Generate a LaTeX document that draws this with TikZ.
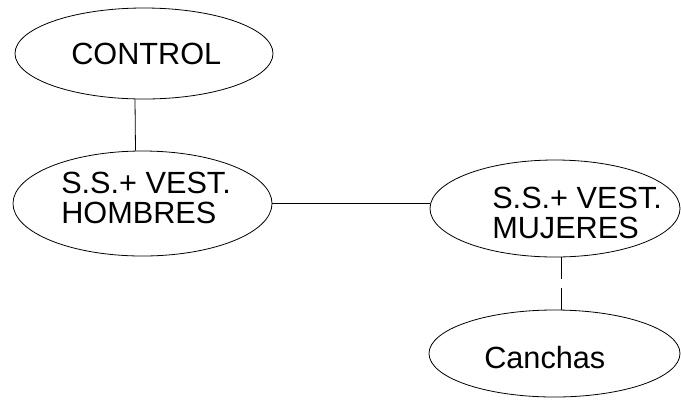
\documentclass[tikz,border=0pt]{standalone}
\usepackage{fontspec}
\setmainfont{Liberation Sans}
\usetikzlibrary{positioning, shapes.geometric}

\begin{document}
\begin{tikzpicture}[
    x=0.75pt, y=-0.75pt,
    % Node styles
    area/.style={ellipse, draw=black, line width=0.6pt, inner sep=0pt},
    areaname/.style={anchor=base west, inner sep=0pt, align=left,
                 font=\fontsize{23}{22.5}\selectfont},
    % Edge styles
    link/.style={draw=black, line width=0.6pt},
    cut link/.style={link, dash pattern=on 16.5pt off 6.75pt}
]
\useasboundingbox (0,0) rectangle (681,405);
% Area nodes
\node[area, minimum width=193.5pt, minimum height=68.25pt] (ctrl) at (144, 53.5) {};
\node[area, minimum width=194.25pt, minimum height=78.75pt] (homb) at (142.5, 203.5) {};
\node[area, minimum width=187.5pt, minimum height=72.75pt] (muj) at (555, 208.5) {};
\node[area, minimum width=188.25pt, minimum height=65.25pt] (canch) at (554.5, 353.5) {};
% Names (base = last line)
\node[areaname] (ctrl text) at (71, 64) {CONTROL};
\node[areaname] (homb text) at (61, 223) {S.S.+ VEST.\\HOMBRES};
\node[areaname] (muj text) at (492, 238) {S.S.+ VEST.\\MUJERES};
\node[areaname] (canch text) at (484, 368) {Canchas};
% Links
\draw[link] ([xshift=-6.75pt]ctrl.south) -- ([xshift=-5.25pt]homb.north);
\draw[link] (homb.east) -- (homb.east -| muj.west);
\draw[cut link] ([xshift=4.5pt]muj.south) -- ([xshift=4.875pt]canch.north);
\end{tikzpicture}
\end{document}
